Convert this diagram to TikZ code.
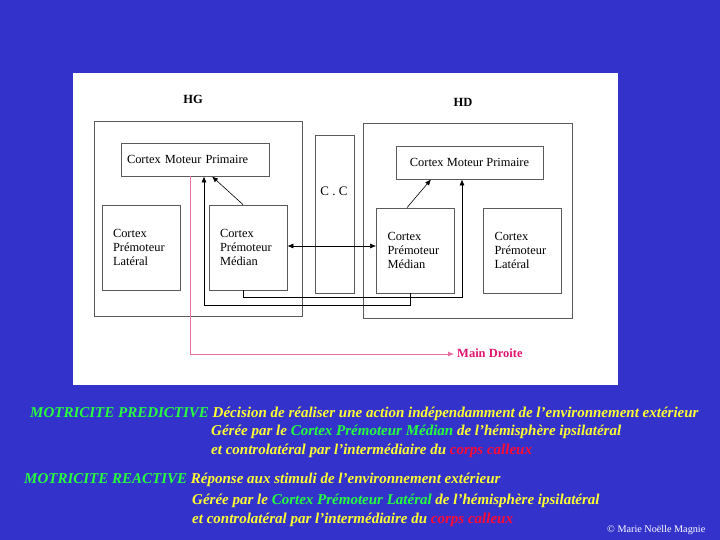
\documentclass[tikz,border=0pt]{standalone}
\usepackage{fontspec}
\setmainfont{Liberation Serif}
\usetikzlibrary{arrows.meta}
\definecolor{bgblue}{RGB}{51,51,204}
\definecolor{tgreen}{RGB}{40,255,60}
\definecolor{tyellow}{RGB}{255,255,50}
\definecolor{tred}{RGB}{255,10,50}
\definecolor{mdpink}{RGB}{225,20,110}
\definecolor{pinkline}{RGB}{230,110,160}
\definecolor{boxgray}{RGB}{90,90,90}
\tikzset{
  panel/.style={draw=boxgray, line width=0.8pt, rectangle, inner sep=0pt},
  cbox/.style={draw=boxgray, line width=0.8pt, rectangle, font=\fontsize{12.4}{14}\selectfont, align=left, anchor=center},
  conn/.style={draw=black, line width=0.6pt, -{Latex[length=6pt,width=5pt]}},
  biconn/.style={draw=black, line width=0.6pt, {Latex[length=6pt,width=5pt]}-{Latex[length=6pt,width=5pt]}},
  txt/.style={anchor=base west, inner sep=0pt, font=\fontsize{15}{17}\selectfont\bfseries\itshape, text=tyellow},
}
\begin{document}
\begin{tikzpicture}[x=1pt,y=-1pt]
\useasboundingbox (0,0) rectangle (720,540);
\fill[bgblue] (0,0) rectangle (720,540);
\fill[white] (73,73) rectangle (618,385);

% hemisphere panels
\node[panel, minimum width=208pt, minimum height=195pt] (hg) at (198,218.5) {};
\node[panel, minimum width=209pt, minimum height=195pt] (hd) at (467.5,220.5) {};
\node[font=\fontsize{12.5}{14}\selectfont\bfseries] (hglab) at (193,99) {HG};
\node[font=\fontsize{12.5}{14}\selectfont\bfseries] (hdlab) at (463,102) {HD};

% left hemisphere
\node[cbox, minimum width=148pt, minimum height=33pt, text width=136pt, inner xsep=6pt] (lcmp) at (195,159.5) {Cortex Moteur Primaire};
\node[cbox, minimum width=78pt, minimum height=85pt, text width=56pt, inner xsep=11pt] (llat) at (141,247.5) {Cortex\\Prémoteur\\Latéral};
\node[cbox, minimum width=78pt, minimum height=85pt, text width=56pt, inner xsep=11pt] (lmed) at (248,247.5) {Cortex\\Prémoteur\\Médian};

% corpus callosum
\node[panel, minimum width=39pt, minimum height=158pt] (cc) at (334.5,214) {};
\node[font=\fontsize{13}{14}\selectfont] (cclab) at (334,191.5) {C . C};

% right hemisphere
\node[cbox, minimum width=147pt, minimum height=33pt, align=center] (rcmp) at (469.5,162.5) {Cortex Moteur Primaire};
\node[cbox, minimum width=77pt, minimum height=85pt, text width=56pt, inner xsep=11pt] (rmed) at (415.5,250.5) {Cortex\\Prémoteur\\Médian};
\node[cbox, minimum width=77pt, minimum height=85pt, text width=56pt, inner xsep=11pt] (rlat) at (522.5,250.5) {Cortex\\Prémoteur\\Latéral};

% connectors
\draw[conn] (lmed.north -| 243,0) -- (lcmp.south -| 212,0);
\draw[conn] (rmed.north -| 407,0) -- (rcmp.south -| 431,0);
\draw[biconn] (lmed.east |- 0,246) -- (rmed.west |- 0,246);
\draw[conn] (lmed.south -| 243,0) -- (243,297.5) -- (462,297.5) -- (rcmp.south -| 462,0);
\draw[conn] (rmed.south -| 410,0) -- (410,305) -- (204,305) -- (lcmp.south -| 204,0);

% main droite
\node[anchor=west, inner sep=0pt, text=mdpink, font=\fontsize{12.5}{14}\selectfont\bfseries] (md) at (457,353) {Main Droite};
\draw[draw=pinkline, line width=0.8pt, -{Latex[length=6pt,width=5pt]}, shorten >=3pt] (lcmp.south -| 190,0) -- (190,354) -- (md.west |- 0,354);

% bottom texts
\node[txt] (l1) at (30,417) {\textcolor{tgreen}{MOTRICITE PREDICTIVE} Décision de réaliser une action indépendamment de l’environnement extérieur};
\node[txt] (l2) at (211,435.5) {Gérée par le \textcolor{tgreen}{Cortex Prémoteur Médian} de l’hémisphère ipsilatéral};
\node[txt] (l3) at (211,454) {et controlatéral par l’intermédiaire du \textcolor{tred}{corps calleux}};
\node[txt] (l4) at (24,483) {\textcolor{tgreen}{MOTRICITE REACTIVE} Réponse aux stimuli de l’environnement extérieur};
\node[txt] (l5) at (192,504) {Gérée par le \textcolor{tgreen}{Cortex Prémoteur Latéral} de l’hémisphère ipsilatéral};
\node[txt] (l6) at (192,523) {et controlatéral par l’intermédiaire du \textcolor{tred}{corps calleux}};
\node[anchor=base west, inner sep=0pt, text=white, font=\fontsize{10.2}{12}\selectfont] (copy) at (607,532) {© Marie Noëlle Magnie};
\end{tikzpicture}
\end{document}
